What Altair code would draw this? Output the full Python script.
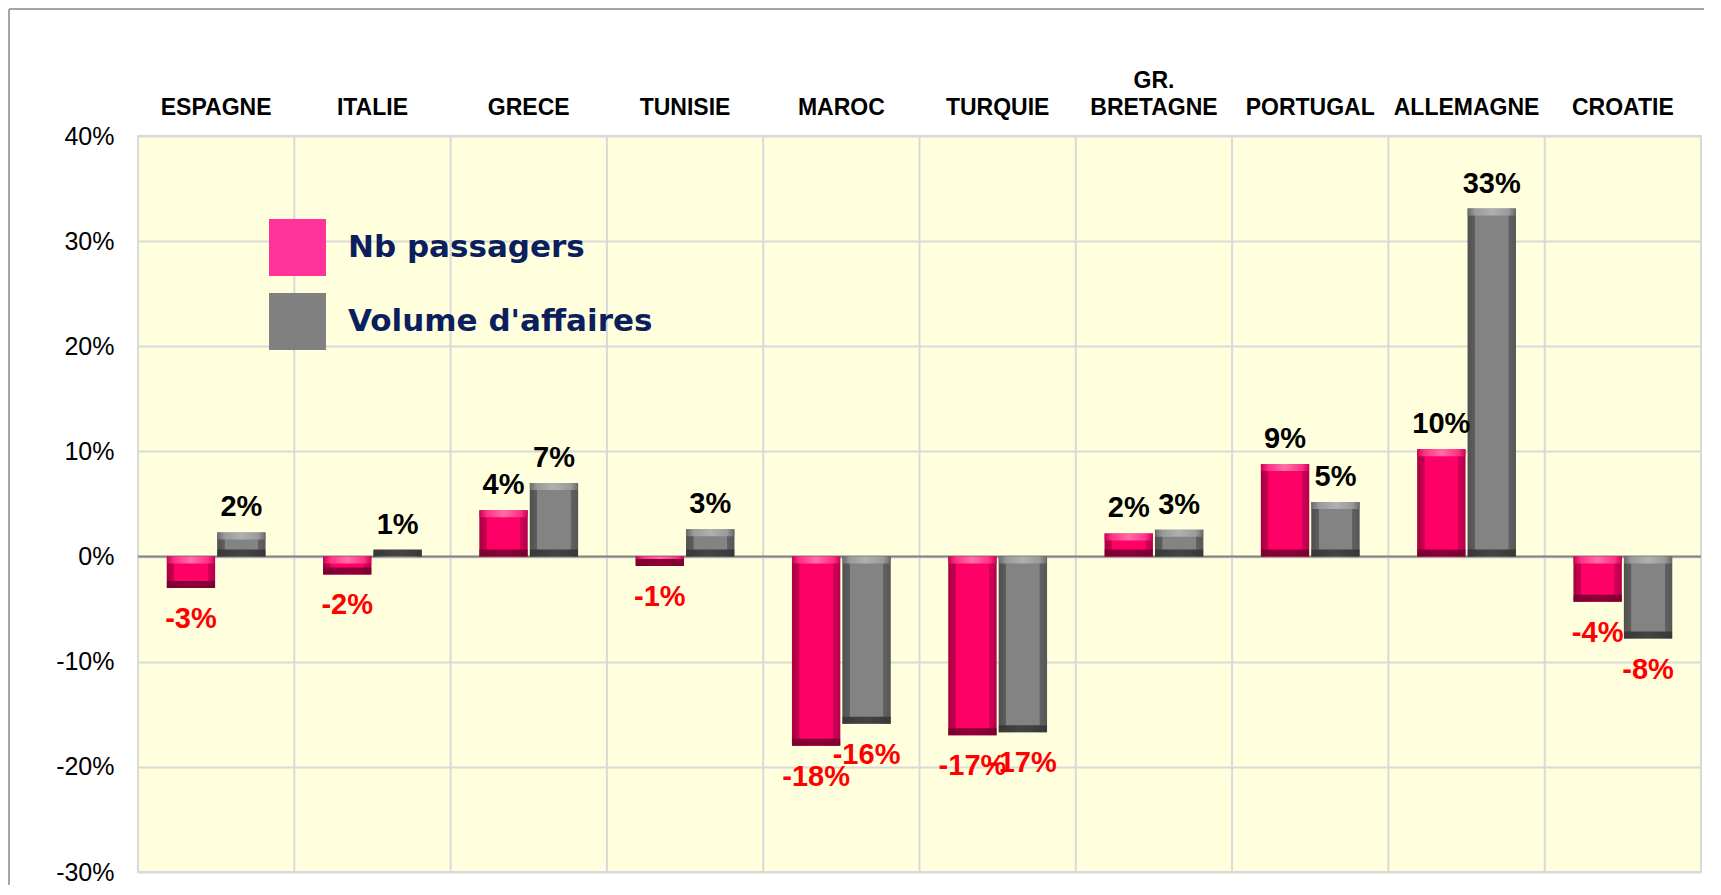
import altair as alt
import pandas as pd

# ---- data ----
categories = ["ESPAGNE", "ITALIE", "GRECE", "TUNISIE", "MAROC", "TURQUIE",
              "GR. BRETAGNE", "PORTUGAL", "ALLEMAGNE", "CROATIE"]
series = ["Nb passagers", "Volume d'affaires"]
nb_passagers = [-3.0, -1.7, 4.4, -0.9, -18.0, -17.0, 2.2, 8.8, 10.2, -4.3]      # %
volume_affaires = [2.3, 0.6, 7.0, 2.6, -15.9, -16.7, 2.55, 5.2, 33.1, -7.8]   # %
y_ticks = [-0.3, -0.2, -0.1, 0.0, 0.1, 0.2, 0.3, 0.4]

rows = []
for c, a, b in zip(categories, nb_passagers, volume_affaires):
    rows.append({"pays": c, "serie": series[0], "valeur": a / 100})
    rows.append({"pays": c, "serie": series[1], "valeur": b / 100})
df = pd.DataFrame(rows)
cat_df = pd.DataFrame({"pays": categories})
one_df = pd.DataFrame({"k": [0]})

FONT = "Liberation Sans"
GRID = "#D9D9D9"
PCT_EXPR = "(datum.valeur < 0 ? '-' : '') + format(abs(datum.valeur), '.0%')"

x_axis = alt.Axis(orient="top", title=None,
                  labelExpr="length(split(datum.label, ' ')) > 1 ? split(datum.label, ' ') : ['', datum.label]",
                  labelFont=FONT, labelFontWeight="bold", labelFontSize=23,
                  labelColor="#000000", labelLineHeight=27, labelPadding=44,
                  labelBaseline="bottom", labelAngle=0, labelOverlap=False,
                  labelLimit=400, ticks=False, tickSize=0, domain=False, grid=False)
x_scale = alt.Scale(domain=categories, paddingInner=0, paddingOuter=0)
x_enc = alt.X("pays:N", sort=categories, scale=x_scale, axis=x_axis)

y_axis = alt.Axis(values=y_ticks, title=None, grid=True,
                  labelExpr="(datum.value < 0 ? '-' : '') + format(abs(datum.value), '.0%')",
                  gridColor=GRID, gridWidth=2, domain=False, ticks=False,
                  tickSize=0, labelFont=FONT, labelFontSize=25,
                  labelColor="#000000", labelPadding=24)
y_scale = alt.Scale(domain=[-0.3, 0.4], nice=False)
y_enc = alt.Y("valeur:Q", scale=y_scale, axis=y_axis)

xo_enc = alt.XOffset("serie:N", sort=series,
                     scale=alt.Scale(domain=series, paddingInner=0.04, paddingOuter=0.57))


def grad(stops):
    return alt.LinearGradient(
        gradient="linear", x1=0, x2=1, y1=0, y2=0,
        stops=[alt.GradientStop(color=c, offset=o) for o, c in stops])


pink_grad = grad([(0.0, "#A8003F"), (0.15, "#C8004F"), (0.16, "#FF0066"),
                  (0.84, "#FF0066"), (0.85, "#D2005A"), (1.0, "#B5004A")])
gray_grad = grad([(0.0, "#4F4F4F"), (0.15, "#5E5E5E"), (0.16, "#838383"),
                  (0.84, "#838383"), (0.85, "#626262"), (1.0, "#565656")])
pink_top = grad([(0.0, "#D0005A"), (0.15, "#FF3385"), (0.5, "#FF6FA6"),
                 (0.85, "#FF3385"), (1.0, "#D0005A")])
pink_bot = grad([(0.0, "#7A0030"), (0.5, "#8E0038"), (1.0, "#7A0030")])
gray_top = grad([(0.0, "#6A6A6A"), (0.15, "#9A9A9A"), (0.5, "#B0B0B0"),
                 (0.85, "#9A9A9A"), (1.0, "#6A6A6A")])
gray_bot = grad([(0.0, "#383838"), (0.5, "#444444"), (1.0, "#383838")])

# vertical category gridlines (at band starts)
vgrid = alt.Chart(cat_df).mark_rule(color=GRID, strokeWidth=2).encode(
    x=alt.X("pays:N", sort=categories, scale=x_scale, axis=x_axis, bandPosition=0)
)

base = alt.Chart(df).transform_calculate(
    haut="max(datum.valeur, 0)", bas="min(datum.valeur, 0)", lab=PCT_EXPR)


def bar_layers(name, body, top, bot):
    b = base.transform_filter(alt.datum.serie == name)
    body_l = b.mark_bar(color=body).encode(x=x_enc, xOffset=xo_enc, y=y_enc)
    top_l = b.mark_tick(color=top, orient="horizontal", thickness=7, size=48,
                        yOffset=3.5, opacity=1).encode(
        x=x_enc, xOffset=xo_enc, y=alt.Y("haut:Q", scale=y_scale, axis=y_axis))
    bot_l = b.mark_tick(color=bot, orient="horizontal", thickness=7, size=48,
                        yOffset=-3.5, opacity=1).encode(
        x=x_enc, xOffset=xo_enc, y=alt.Y("bas:Q", scale=y_scale, axis=y_axis))
    return [body_l, top_l, bot_l]


legend_layer = alt.Chart(df).mark_square(opacity=0, size=0).encode(
    x=x_enc, xOffset=xo_enc, y=y_enc,
    color=alt.Color("serie:N", sort=series,
                    scale=alt.Scale(domain=series, range=["#FF3399", "#808080"]),
                    legend=alt.Legend(orient="none", legendX=131, legendY=83, title=None,
                                      padding=0, symbolType="square", symbolSize=3249,
                                      symbolStrokeWidth=0, symbolOpacity=1,
                                      rowPadding=17, labelOffset=22, labelLimit=600,
                                      labelFont="DejaVu Sans", labelFontWeight="bold",
                                      labelFontSize=31, labelColor="#0B1F5E"))
)

zero_line = alt.Chart(one_df).mark_rule(color="#808080", strokeWidth=2).encode(
    y=alt.datum(0))

labels_pos = base.transform_filter(alt.datum.valeur > 0).mark_text(
    baseline="alphabetic", dy=-16, font=FONT, fontWeight="bold", fontSize=29,
    color="#000000").encode(x=x_enc, xOffset=xo_enc, y=y_enc, text="lab:N")
labels_neg = base.transform_filter(alt.datum.valeur < 0).mark_text(
    baseline="top", dy=17, font=FONT, fontWeight="bold", fontSize=29,
    color="#FF0000").encode(x=x_enc, xOffset=xo_enc, y=y_enc, text="lab:N")

# outer frame of the picture (left and top edges)
frame_left = alt.Chart(one_df).mark_rule(color="#A6A6A6", strokeWidth=2).encode(
    x=alt.value(-129), y=alt.value(-127), y2=alt.value(760))
frame_top = alt.Chart(one_df).mark_rule(color="#A6A6A6", strokeWidth=2).encode(
    x=alt.value(-129), x2=alt.value(1600), y=alt.value(-127))

layers = [vgrid, zero_line]
layers += bar_layers(series[0], pink_grad, pink_top, pink_bot)
layers += bar_layers(series[1], gray_grad, gray_top, gray_bot)
layers += [legend_layer, labels_pos, labels_neg, frame_left, frame_top]

chart = alt.layer(*layers).properties(
    width=1563, height=736,
    autosize=alt.AutoSizeParams(type="none"),
    padding={"left": 130, "top": 128, "right": 3, "bottom": 13},
    background="#FFFFFF",
).configure_view(
    fill="#FFFFDD", stroke=GRID, strokeWidth=2
)

chart.save("out.html", embed_options={"renderer": "svg", "actions": False})
